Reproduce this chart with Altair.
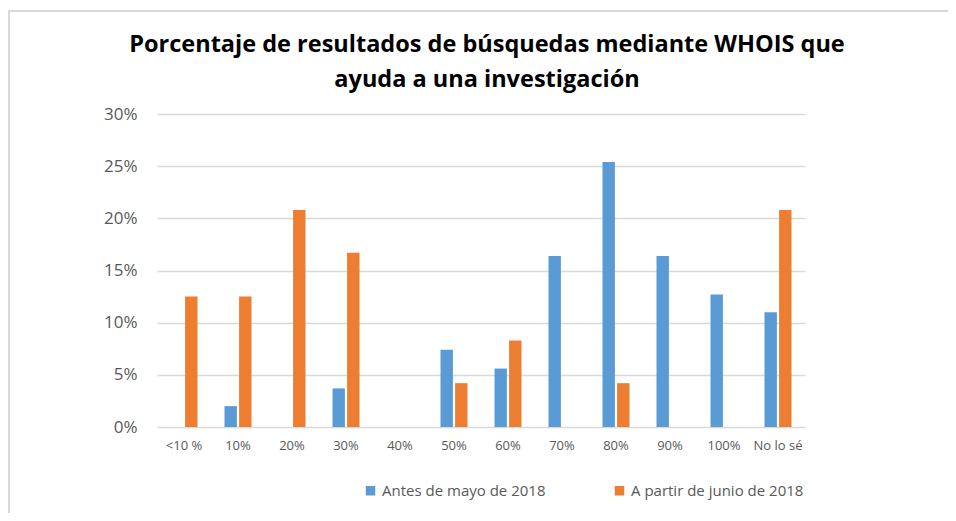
import altair as alt
import pandas as pd

categorias = ["<10 %", "10%", "20%", "30%", "40%", "50%", "60%", "70%", "80%", "90%", "100%", "No lo sé"]
antes_mayo_2018 = [0.0, 2.0, 0.0, 3.7, 0.0, 7.4, 5.6, 16.4, 25.4, 16.4, 12.7, 11.0]
desde_junio_2018 = [12.5, 12.5, 20.8, 16.7, 0.0, 4.2, 8.3, 0.0, 4.2, 0.0, 0.0, 20.8]
series = ["Antes de mayo de 2018", "A partir de junio de 2018"]
colores = ["#5B9BD5", "#ED7D31"]

rows = []
for i, c in enumerate(categorias):
    rows.append({"cat": c, "serie": series[0], "valor": antes_mayo_2018[i] / 100})
    rows.append({"cat": c, "serie": series[1], "valor": desde_junio_2018[i] / 100})
df = pd.DataFrame(rows)

FONT = "Open Sans"

bars = alt.Chart(df).mark_bar().encode(
    x=alt.X("cat:N", sort=categorias, title=None,
            scale=alt.Scale(paddingInner=0.5, paddingOuter=0.25),
            axis=alt.Axis(labelAngle=0, domain=False, ticks=False, grid=False, labelPadding=12,
                          labelFontSize=13, labelColor="#595959", labelFont=FONT)),
    xOffset=alt.XOffset("serie:N", sort=series, scale=alt.Scale(paddingInner=0.15)),
    y=alt.Y("valor:Q", title=None,
            scale=alt.Scale(domain=[0, 0.3], nice=False),
            axis=alt.Axis(format=".0%", values=[0, 0.05, 0.10, 0.15, 0.20, 0.25, 0.30],
                          domain=False, ticks=False, labelPadding=20, labelFontSize=17,
                          labelColor="#595959", labelFont=FONT, gridColor="#D9D9D9",
                          gridWidth=1.5)),
    color=alt.Color("serie:N", sort=series,
                    scale=alt.Scale(domain=series, range=colores),
                    legend=alt.Legend(title=None, orient="none", direction="horizontal",
                                      legendX=206, legendY=369, symbolType="square",
                                      symbolSize=90, symbolStrokeWidth=0,
                                      labelFontSize=15, labelColor="#595959", labelFont=FONT,
                                      labelOffset=4, columnPadding=66, labelLimit=300)),
)

frame_data = pd.DataFrame({"f": [0]})
frame_top = alt.Chart(frame_data).mark_rule(
    stroke="#D9D9D9", strokeWidth=2, clip=False
).encode(x=alt.value(-148), x2=alt.value(791), y=alt.value(-103))
frame_left = alt.Chart(frame_data).mark_rule(
    stroke="#D9D9D9", strokeWidth=2, clip=False
).encode(x=alt.value(-148), y=alt.value(-104), y2=alt.value(399))

chart = alt.layer(frame_top, frame_left, bars).properties(
    width=648,
    height=313,
    autosize=alt.AutoSizeParams(type="none"),
    padding={"left": 149, "top": 106, "right": 143, "bottom": 86},
    title=alt.Title(
        ["Porcentaje de resultados de búsquedas mediante WHOIS que", "ayuda a una investigación"],
        font=FONT, fontSize=23.5, fontWeight="bold", color="#000000",
        anchor="middle", offset=-82, lineHeight=35, dx=6,
    ),
).configure(background="white").configure_view(stroke=None, strokeWidth=0)

chart.save("out.html", embed_options={"renderer": "svg", "actions": False})
